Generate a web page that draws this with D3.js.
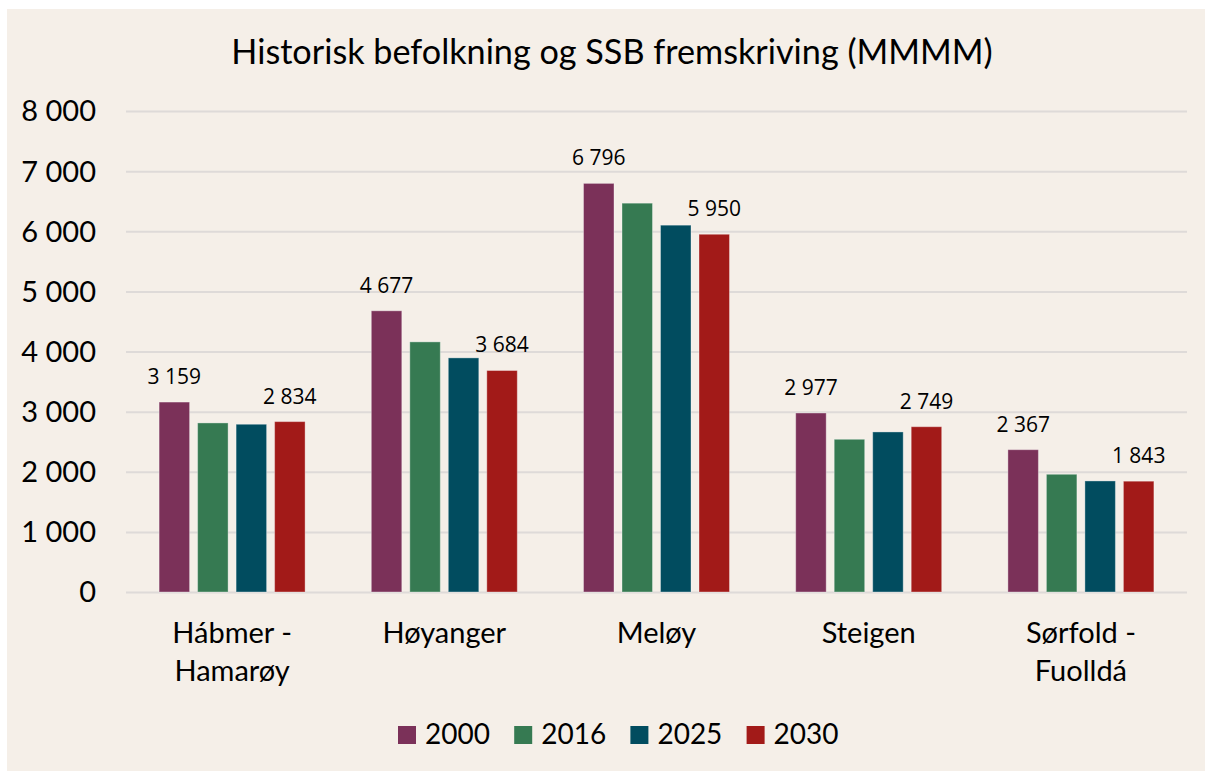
<!DOCTYPE html>
<html>
<head>
<meta charset="utf-8">
<script src="https://cdn.jsdelivr.net/npm/d3@7"></script>
<style>
  body { margin: 0; background: #fff; }
  svg text { fill: #000; }
</style>
</head>
<body>
<script>
var W = 1205, H = 771;

var kommuner = ["Hábmer - Hamarøy", "Høyanger", "Meløy", "Steigen", "Sørfold - Fuolldá"];
var years = ["2000", "2016", "2025", "2030"];
var pop2000 = [3159, 4677, 6796, 2977, 2367];
var pop2016 = [2812, 4160, 6467, 2540, 1958];
var pop2025 = [2790, 3894, 6101, 2662, 1847];
var pop2030 = [2834, 3684, 5950, 2749, 1843];
var yTicks = [0, 1000, 2000, 3000, 4000, 5000, 6000, 7000, 8000];
var labelled = ["2000", "2030"]; // only first and last series carry data labels

var colors = {"2000": "#7B3159", "2016": "#367A52", "2025": "#014C5F", "2030": "#A21A18"};
var series = {"2000": pop2000, "2016": pop2016, "2025": pop2025, "2030": pop2030};

var nf = d3.formatLocale({decimal: ",", thousands: " ", grouping: [3], currency: ["", ""]}).format(",");

var svg = d3.select("body").append("svg")
    .attr("width", W)
    .attr("height", H);

svg.append("rect")
    .attr("x", 7).attr("y", 9)
    .attr("width", W - 7).attr("height", H - 9)
    .attr("fill", "#F5EFE8");

var x0 = d3.scaleBand()
    .domain(kommuner)
    .range([126, 1187])
    .paddingInner(0.312)
    .paddingOuter(0.156);

var x1 = d3.scaleBand()
    .domain(years)
    .range([0, x0.bandwidth()])
    .paddingInner(0.208);

var y = d3.scaleLinear()
    .domain([0, 8000])
    .range([592, 111]);

// gridlines + y labels
var yAxis = svg.append("g")
    .attr("class", "y-axis")
    .attr("transform", "translate(126,0)")
    .call(d3.axisLeft(y).tickValues(yTicks).tickFormat(nf).tickSize(-(1187 - 126)).tickPadding(30));
yAxis.select(".domain").remove();
yAxis.selectAll(".tick line")
    .attr("stroke", "#DEDAD8")
    .attr("stroke-width", 2);
yAxis.selectAll(".tick text")
    .attr("x", -30)
    .attr("dy", "0.34em")
    .style("font-family", "Lato, 'Open Sans', sans-serif")
    .style("font-size", "29px");

// title
svg.append("text")
    .attr("x", 612)
    .attr("y", 64)
    .attr("text-anchor", "middle")
    .style("font-family", "Lato, 'Open Sans', sans-serif")
    .style("font-size", "34.2px")
    .text("Historisk befolkning og SSB fremskriving (MMMM)");

// bars
var rows = kommuner.map(function(k, i){
    return {kommune: k, values: years.map(function(yr){ return {year: yr, value: series[yr][i]}; })};
});

var group = svg.selectAll(".group")
    .data(rows)
  .enter().append("g")
    .attr("class", "group")
    .attr("transform", function(d){ return "translate(" + x0(d.kommune) + ",0)"; });

group.selectAll("rect")
    .data(function(d){ return d.values; })
  .enter().append("rect")
    .attr("x", function(d){ return x1(d.year); })
    .attr("y", function(d){ return y(d.value); })
    .attr("width", x1.bandwidth())
    .attr("height", function(d){ return y(0) - y(d.value); })
    .attr("fill", function(d){ return colors[d.year]; })
    .attr("stroke", "rgba(255,255,255,0.35)")
    .attr("stroke-width", 1);

group.selectAll(".dlabel")
    .data(function(d){ return d.values.filter(function(v){ return labelled.indexOf(v.year) >= 0; }); })
  .enter().append("text")
    .attr("class", "dlabel")
    .attr("x", function(d){ return x1(d.year) + x1.bandwidth() / 2; })
    .attr("y", function(d){ return y(d.value) - 18; })
    .attr("text-anchor", "middle")
    .style("font-family", "'Open Sans', sans-serif")
    .style("font-size", "21px")
    .text(function(d){ return nf(d.value); });

// category labels (split "A - B" over two lines)
var xAxis = svg.append("g")
    .attr("class", "x-axis")
    .attr("transform", "translate(0,592)")
    .call(d3.axisBottom(x0).tickSize(0).tickFormat(""));
xAxis.select(".domain").remove();
xAxis.selectAll(".tick text").remove();
xAxis.selectAll(".tick").append("text")
    .attr("text-anchor", "middle")
    .style("font-family", "Lato, 'Open Sans', sans-serif")
    .style("font-size", "29px")
    .each(function(d){
        var parts = d.split(" - ");
        var lines = parts.length > 1 ? [parts[0] + " -", parts[1]] : [d];
        var t = d3.select(this);
        lines.forEach(function(l, i){
            t.append("tspan").attr("x", 0).attr("y", 51 + i * 38).text(l);
        });
    });

// legend
var legend = svg.append("g")
    .attr("class", "legend")
    .attr("transform", "translate(398,726)");
var item = legend.selectAll(".item")
    .data(years)
  .enter().append("g")
    .attr("class", "item")
    .attr("transform", function(d, i){ return "translate(" + (i * 116.2) + ",0)"; });
item.append("rect")
    .attr("width", 18).attr("height", 18)
    .attr("fill", function(d){ return colors[d]; });
item.append("text")
    .attr("x", 27)
    .attr("y", 18)
    .style("font-family", "Lato, 'Open Sans', sans-serif")
    .style("font-size", "28px")
    .text(function(d){ return d; });
</script>
</body>
</html>
